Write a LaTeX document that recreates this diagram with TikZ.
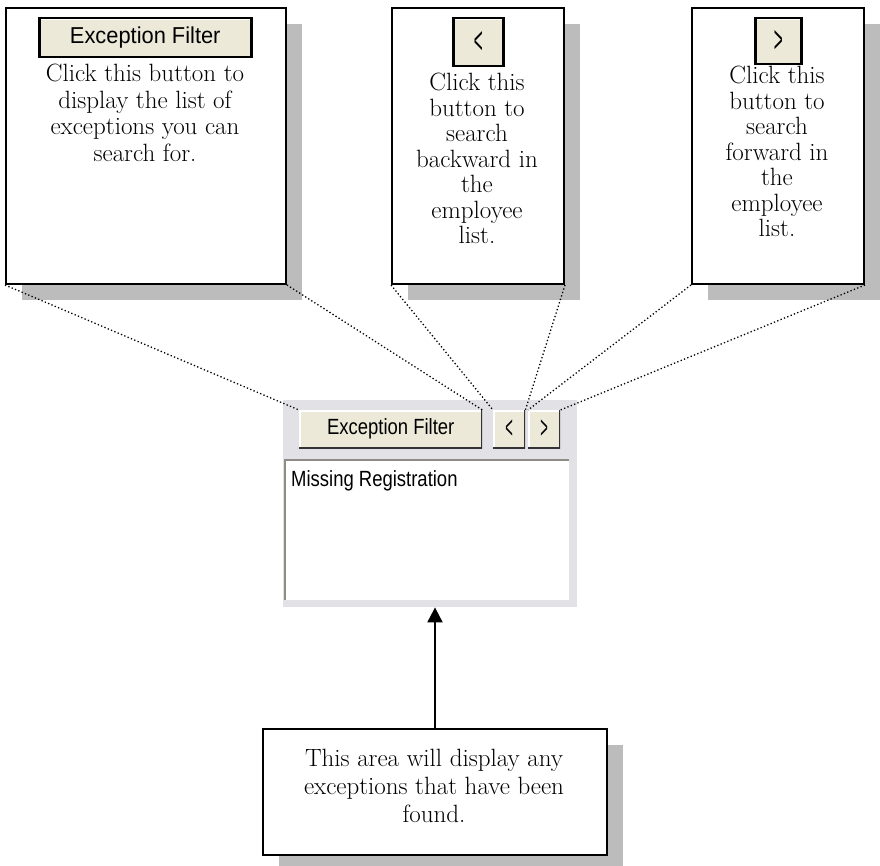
\documentclass[tikz,border=0pt]{standalone}
\usepackage{fontspec}
\usepackage{graphicx}
\usetikzlibrary{arrows.meta,shadows}
\newfontfamily\uifont[FakeStretch=0.84]{Liberation Sans}
\newfontfamily\uifontwide[FakeStretch=0.95]{Liberation Sans}
\definecolor{btnface}{HTML}{ECE9D8}
\definecolor{panelbg}{HTML}{E2E1E5}
\definecolor{shadowgray}{HTML}{BCBCBC}
\definecolor{sunken}{HTML}{8E8C84}
\newcommand\chev[1]{\scalebox{0.7}[1.45]{#1}}
\tikzset{
  tipbox/.style={draw=black, line width=2pt, fill=white, inner sep=0pt,
    drop shadow={shadow xshift=16pt, shadow yshift=-16pt, fill=shadowgray, opacity=1}},
  tiptext/.style={align=center, inner sep=0pt, font=\fontsize{25}{25.5}\selectfont},
  uitext/.style={font=\uifont\fontsize{22}{26}\selectfont},
  winbtn/.style={fill=btnface, inner sep=0pt, uitext, path picture={
      \draw[white, line width=3pt] (path picture bounding box.south west) -- (path picture bounding box.north west) -- (path picture bounding box.north east);
      \draw[black!80, line width=3pt] (path picture bounding box.south west) -- (path picture bounding box.south east) -- (path picture bounding box.north east);}},
  iconbtn/.style={winbtn, draw=black, line width=2.5pt},
  listbox/.style={fill=white, inner sep=0pt, path picture={
      \draw[sunken, line width=4pt] (path picture bounding box.south west) -- (path picture bounding box.north west) -- (path picture bounding box.north east);
      \draw[panelbg, line width=3pt] (path picture bounding box.south west) -- (path picture bounding box.south east) -- (path picture bounding box.north east);}},
  pointer/.style={line width=1.3pt, dash pattern=on 1.3pt off 2.3pt},
}
\begin{document}
\begin{tikzpicture}[x=1pt, y=-1pt]
   \useasboundingbox (0,0) rectangle (880,866);
   \node[tipbox, minimum width=280pt, minimum height=276pt, anchor=north west] (tipFilter) at (5,7) {};
   \node[tipbox, minimum width=172pt, minimum height=276pt, anchor=north west] (tipBack) at (391,7) {};
   \node[tipbox, minimum width=172pt, minimum height=276pt, anchor=north west] (tipFwd) at (691,7) {};
   \node[tipbox, minimum width=344pt, minimum height=126pt, anchor=north west] (tipArea) at (262,728) {};
   \node[iconbtn, minimum width=212pt, minimum height=39pt, anchor=north west, font=\uifontwide\fontsize{23}{26}\selectfont] (iconFilter) at (38,17) {Exception Filter};
   \node[iconbtn, minimum width=50pt, minimum height=48pt, anchor=north west, font=\uifont\fontsize{26}{28}\selectfont] (iconBack) at (452,17) {\chev{<}};
   \node[iconbtn, minimum width=46pt, minimum height=46pt, anchor=north west, font=\uifont\fontsize{26}{28}\selectfont] (iconFwd) at (754,17) {\chev{>}};
   \node[tiptext, anchor=north, font=\fontsize{25}{26.5}\selectfont] (tipFilterText) at (145,64) {Click this button to\\display the list of\\exceptions you can\\search for.};
   \node[tiptext, anchor=north] (tipBackText) at (477,73) {Click this\\button to\\search\\backward in\\the\\employee\\list.};
   \node[tiptext, anchor=north] (tipFwdText) at (777,66) {Click this\\button to\\search\\forward in\\the\\employee\\list.};
   \node[tiptext, font=\fontsize{25}{28}\selectfont] (tipAreaText) at (434,786) {This area will display any\\exceptions that have been\\found.};
   \node[fill=panelbg, minimum width=294pt, minimum height=207pt, anchor=north west, inner sep=0pt] (panel) at (283,400) {};
   \node[winbtn, minimum width=183pt, minimum height=38pt, anchor=north west] (btnFilter) at (299,410) {Exception Filter};
   \node[winbtn, minimum width=32pt, minimum height=38pt, anchor=north west] (btnBack) at (493,410) {\chev{<}};
   \node[winbtn, minimum width=32pt, minimum height=38pt, anchor=north west] (btnFwd) at (528,410) {\chev{>}};
   \node[listbox, minimum width=286pt, minimum height=142pt, anchor=north west] (excList) at (284,459) {};
   \node[uitext, anchor=base west, inner sep=0pt] (excItem) at (291,486) {Missing Registration};
   \draw[pointer] (tipFilter.south west) -- (btnFilter.north west);
   \draw[pointer] (tipFilter.south east) -- (btnFilter.north east);
   \draw[pointer] (tipBack.south west) -- (btnBack.north west);
   \draw[pointer] (tipBack.south east) -- (btnBack.north east);
   \draw[pointer] (tipFwd.south west) -- (btnFwd.north west);
   \draw[pointer] (tipFwd.south east) -- (btnFwd.north east);
   \draw[line width=2pt, -{Triangle[width=15pt,length=15pt]}] (tipArea.north) -- (tipArea.north |- panel.south);
\end{tikzpicture}
\end{document}
